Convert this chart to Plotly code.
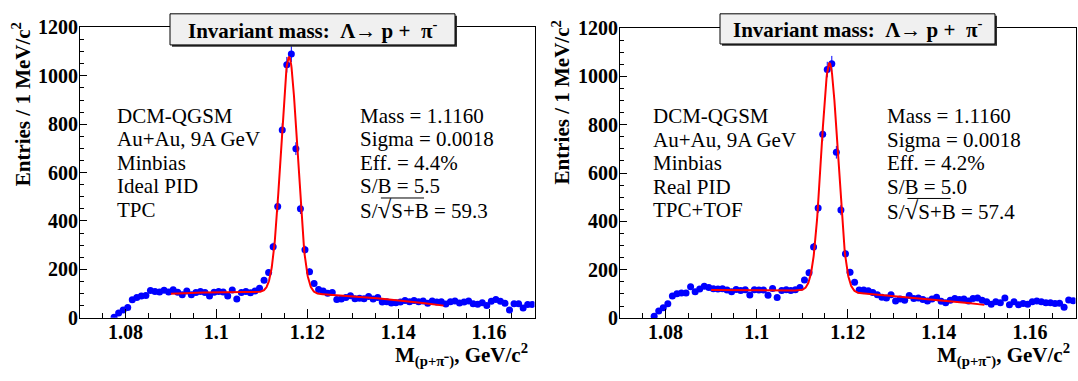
import numpy as np
import plotly.graph_objects as go

# ---------------- data ----------------
BIN_START = 1.0775
BIN_WIDTH = 0.001
N_BINS = 93
bin_centers = [round(BIN_START + BIN_WIDTH * k, 4) for k in range(N_BINS)]

counts_tpc = [2, 19, 32, 42, 74, 84, 90, 92, 113, 108, 106, 114, 106, 116, 105, 95, 110, 95, 104, 108,
              104, 90, 105, 108, 106, 90, 115, 77, 104, 108, 103, 110, 122,
              155, 187, 293, 460, 776, 1046, 1090, 699, 450, 281, 190, 141, 117,
              110, 101, 104, 75, 77, 84, 91, 78, 80, 78, 88, 77, 84, 65, 66, 61, 62, 65, 71, 66,
              71, 66, 69, 60, 69, 65, 66, 57, 66, 69, 61, 65, 69, 58, 56, 62, 50, 68, 75, 68,
              60, 32, 58, 58, 40, 55, 55]

counts_tof = [8, 30, 43, 60, 92, 101, 104, 104, 130, 109, 121, 132, 127, 122, 121, 122, 116, 109, 119, 114,
              118, 96, 118, 117, 117, 95, 123, 86, 114, 118, 114, 118, 127,
              158, 188, 294, 456, 760, 1028, 1052, 686, 447, 266, 190, 149, 116,
              117, 113, 106, 97, 87, 83, 97, 71, 79, 74, 94, 81, 83, 77, 71, 79, 87, 70, 64, 74,
              81, 77, 79, 71, 81, 83, 74, 68, 58, 68, 64, 83, 55, 68, 55, 61, 58, 68, 71, 68,
              64, 64, 61, 62, 45, 75, 72]

# fit (gaussian + pol2 background) parameters
FIT_RANGE = [1.09, 1.15]
fit_tpc = dict(mass=1.1160, sigma=0.0018, amp=975, p0=100.0, p1=-817.0, p2=-28333.0)
fit_tof = dict(mass=1.1160, sigma=0.0018, amp=945, p0=105.5, p1=-1033.0, p2=-21667.0)
BG_PIVOT = 1.12

X_TICKS = [1.08, 1.1, 1.12, 1.14, 1.16]
X_TICK_LABELS = ["1.08", "1.1", "1.12", "1.14", "1.16"]
Y_TICKS = [0, 200, 400, 600, 800, 1000, 1200]
Y_TICK_LABELS = ["0", "200", "400", "600", "800", "1000", "1200"]

SQRT = "<span style='font-size:25px'>\u221a</span>"
left_text_tpc = ["DCM-QGSM", "Au+Au, 9A GeV", "Minbias", "Ideal PID", "TPC"]
right_text_tpc = ["Mass = 1.1160", "Sigma = 0.0018", "Eff. = 4.4%", "S/B = 5.5", "S/" + SQRT + "S+B = 59.3"]
left_text_tof = ["DCM-QGSM", "Au+Au, 9A GeV", "Minbias", "Real PID", "TPC+TOF"]
right_text_tof = ["Mass = 1.1160", "Sigma = 0.0018", "Eff. = 4.2%", "S/B = 5.0", "S/" + SQRT + "S+B = 57.4"]
text_rows_y = [834, 737, 640, 543, 446]

TITLE = "Invariant mass:\u00a0\u00a0\u039b\u2192\u00a0p\u00a0+\u00a0\u00a0\u03c0<sup>-</sup>"
Y_TITLE = "Entries / 1 MeV/c<sup>2</sup>"
X_TITLE = "M<sub>(p+\u03c0\u207b)</sub>, GeV/c<sup>2</sup>"

W, H = 1078, 381


def px(x):
    return x / W


def py(y):
    return 1 - y / H


def fit_curve(p, xs):
    xs = np.asarray(xs)
    u = xs - BG_PIVOT
    return p["amp"] * np.exp(-0.5 * ((xs - p["mass"]) / p["sigma"]) ** 2) + p["p0"] + p["p1"] * u + p["p2"] * u * u


xf = np.linspace(FIT_RANGE[0], FIT_RANGE[1], 801)

SERIF = "Liberation Serif"
BLUE = "#0000ff"
RED = "#ff0000"

fig = go.Figure()

panels = [
    dict(counts=counts_tpc, fit=fit_tpc, xa="x", ya="y", ltxt=left_text_tpc, rtxt=right_text_tpc,
         lx=1.0778, rx=1.1312, box=(170, 3, 455, 36), ytitle=(21, 99), xtitle_right=529,
         over=(1.1362, 1.1457)),
    dict(counts=counts_tof, fit=fit_tof, xa="x2", ya="y2", ltxt=left_text_tof, rtxt=right_text_tof,
         lx=1.0768, rx=1.1281, box=(720, 3, 995, 35), ytitle=(561, 97), xtitle_right=1071,
         over=(1.1331, 1.1426)),
]

shapes = []
annotations = []
for p in panels:
    c = np.array(p["counts"], dtype=float)
    fig.add_trace(go.Scatter(
        x=bin_centers, y=c, mode="markers", xaxis=p["xa"], yaxis=p["ya"],
        marker=dict(color=BLUE, size=7, line=dict(width=0)),
        error_y=dict(type="data", array=np.sqrt(c), color=BLUE, thickness=1, width=0),
        showlegend=False, hoverinfo="x+y"))
    fig.add_trace(go.Scatter(
        x=xf, y=fit_curve(p["fit"], xf), mode="lines", xaxis=p["xa"], yaxis=p["ya"],
        line=dict(color=RED, width=2), showlegend=False, hoverinfo="skip"))

    xref = p["xa"]
    yref = p["ya"]
    for t, yv in zip(p["ltxt"], text_rows_y):
        annotations.append(dict(x=p["lx"], y=yv, xref=xref, yref=yref, text=t, showarrow=False,
                                xanchor="left", yanchor="middle",
                                font=dict(family=SERIF, size=21, color="black")))
    for t, yv in zip(p["rtxt"], text_rows_y):
        annotations.append(dict(x=p["rx"], y=yv, xref=xref, yref=yref, text=t, showarrow=False,
                                xanchor="left", yanchor="middle",
                                font=dict(family=SERIF, size=21, color="black")))
    # overline of the square root
    shapes.append(dict(type="line", xref=xref, yref=yref, x0=p["over"][0], x1=p["over"][1],
                       y0=495, y1=495, line=dict(color="black", width=1)))

    # title pave with shadow
    x0, y0, x1, y1 = p["box"]
    shapes.append(dict(type="rect", xref="paper", yref="paper", x0=px(x0 + 2), x1=px(x1 + 2),
                       y0=py(y1 + 2), y1=py(y0 + 2), fillcolor="#303030",
                       line=dict(width=0), layer="above"))
    shapes.append(dict(type="rect", xref="paper", yref="paper", x0=px(x0), x1=px(x1),
                       y0=py(y1), y1=py(y0), fillcolor="#f0f0f0",
                       line=dict(color="black", width=1), layer="above"))
    annotations.append(dict(x=px((x0 + x1) / 2), y=py((y0 + y1) / 2), xref="paper", yref="paper",
                            text=TITLE, showarrow=False, xanchor="center", yanchor="middle",
                            font=dict(family=SERIF, size=21, color="black", weight="bold")))
    # y axis title
    annotations.append(dict(x=px(p["ytitle"][0]), y=py(p["ytitle"][1]), xref="paper", yref="paper",
                            text=Y_TITLE, showarrow=False, textangle=-90,
                            xanchor="center", yanchor="middle",
                            font=dict(family=SERIF, size=21, color="black", weight="bold")))
    # x axis title
    annotations.append(dict(x=px(p["xtitle_right"]), y=py(365), xref="paper", yref="paper",
                            text=X_TITLE, showarrow=False, xanchor="right", yanchor="middle",
                            borderpad=0,
                            font=dict(family=SERIF, size=21, color="black", weight="bold")))


def xaxis_cfg(domain, anchor):
    return dict(domain=domain, anchor=anchor, range=[1.07, 1.17], tickmode="array",
                tickvals=X_TICKS, ticktext=X_TICK_LABELS, ticks="inside", ticklen=9,
                tickcolor="black", tickwidth=1, showline=True, linecolor="black", linewidth=1,
                mirror=True, showgrid=False, zeroline=False, ticklabelstandoff=-4,
                tickfont=dict(family=SERIF, size=20, color="black", weight="bold"),
                minor=dict(tickmode="linear", tick0=1.07, dtick=0.005, ticks="inside",
                           ticklen=5, tickcolor="black", tickwidth=1, showgrid=False))


def yaxis_cfg(domain, anchor):
    return dict(domain=domain, anchor=anchor, range=[0, 1200], tickmode="array",
                tickvals=Y_TICKS, ticktext=Y_TICK_LABELS, ticks="inside", ticklen=7,
                tickcolor="black", tickwidth=1, showline=True, linecolor="black", linewidth=1,
                mirror=True, showgrid=False, zeroline=False, ticklabelstandoff=-3,
                tickfont=dict(family=SERIF, size=20, color="black", weight="bold"),
                minor=dict(tickmode="linear", tick0=0, dtick=50, ticks="inside",
                           ticklen=4, tickcolor="black", tickwidth=1, showgrid=False))


fig.update_layout(
    width=W, height=H, margin=dict(l=0, r=0, t=0, b=0),
    paper_bgcolor="white", plot_bgcolor="white",
    xaxis=xaxis_cfg([px(80), px(534.5)], "y"),
    yaxis=yaxis_cfg([py(325.5), py(17.5)], "x"),
    xaxis2=xaxis_cfg([px(620), px(1075.5)], "y2"),
    yaxis2=yaxis_cfg([py(326), py(18)], "x2"),
    shapes=shapes, annotations=annotations, showlegend=False,
)

fig.write_html("out.html", config={"displayModeBar": False},
               post_script="document.body.style.margin='0';document.body.style.padding='0';")
